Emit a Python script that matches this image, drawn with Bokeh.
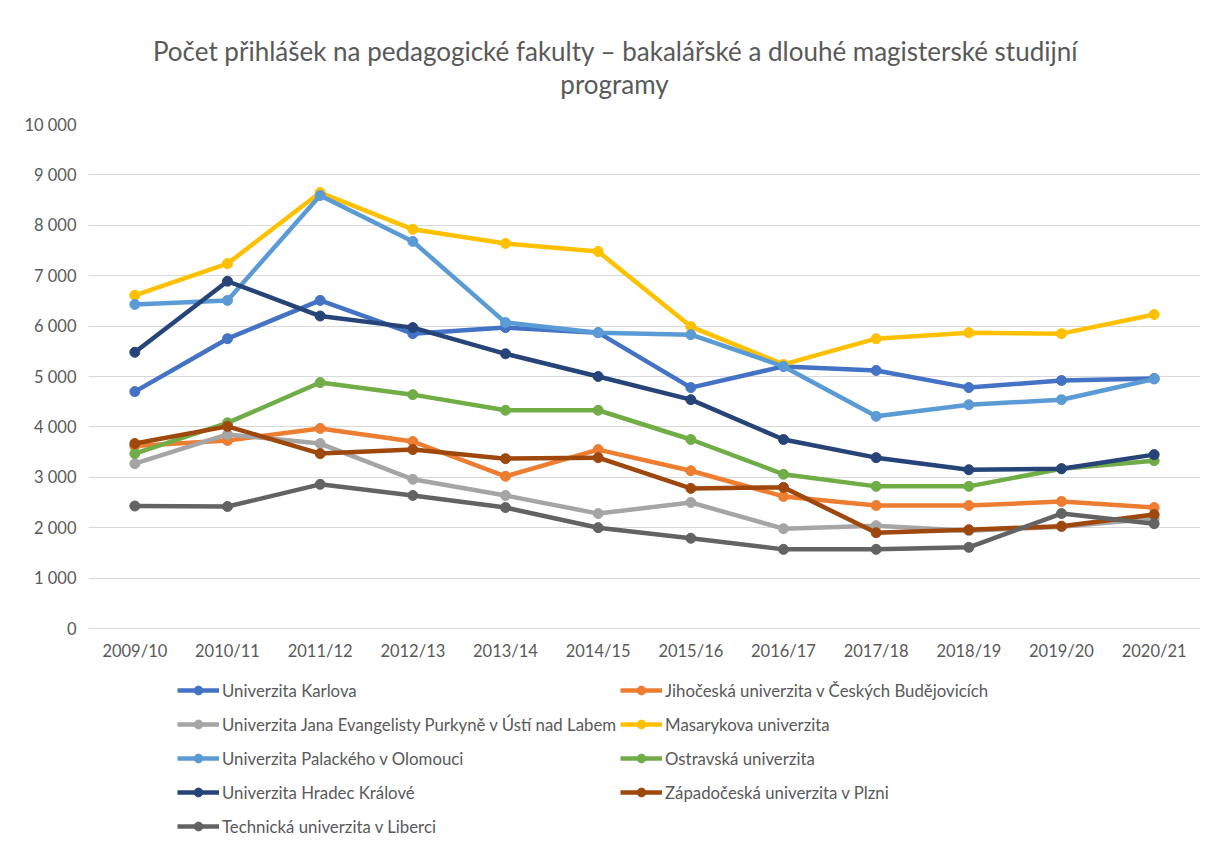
from bokeh.plotting import figure
from bokeh.models import Legend, LegendItem, FixedTicker, Range1d
from bokeh.core.properties import value
from bokeh.layouts import column
from bokeh.embed import file_html
from bokeh.resources import INLINE

years = ["2009/10", "2010/11", "2011/12", "2012/13", "2013/14", "2014/15",
         "2015/16", "2016/17", "2017/18", "2018/19", "2019/20", "2020/21"]

karlova = [4700, 5750, 6510, 5850, 5970, 5870, 4780, 5200, 5120, 4780, 4920, 4960]
jihoceska = [3620, 3730, 3970, 3710, 3020, 3550, 3130, 2620, 2440, 2440, 2520, 2400]
usti = [3270, 3850, 3670, 2960, 2640, 2280, 2500, 1980, 2040, 1940, 2020, 2180]
masaryk = [6610, 7240, 8650, 7920, 7640, 7480, 5990, 5240, 5750, 5870, 5850, 6230]
palacky = [6430, 6510, 8590, 7680, 6070, 5870, 5830, 5200, 4210, 4440, 4540, 4950]
ostrava = [3470, 4080, 4880, 4640, 4330, 4330, 3750, 3060, 2820, 2820, 3170, 3330]
hradec = [5480, 6890, 6200, 5970, 5450, 5000, 4540, 3750, 3390, 3150, 3170, 3450]
plzen = [3670, 4010, 3470, 3550, 3370, 3390, 2780, 2800, 1900, 1960, 2030, 2260]
liberec = [2430, 2420, 2860, 2640, 2400, 2000, 1790, 1570, 1570, 1610, 2280, 2080]

names = ["Univerzita Karlova",
         "Jihočeská univerzita v Českých Budějovicích",
         "Univerzita Jana Evangelisty Purkyně v Ústí nad Labem",
         "Masarykova univerzita",
         "Univerzita Palackého v Olomouci",
         "Ostravská univerzita",
         "Univerzita Hradec Králové",
         "Západočeská univerzita v Plzni",
         "Technická univerzita v Liberci"]
series = [karlova, jihoceska, usti, masaryk, palacky, ostrava, hradec, plzen, liberec]
colors = ["#4472C4", "#ED7D31", "#A5A5A5", "#FFC000", "#5B9BD5",
          "#70AD47", "#264478", "#9E480E", "#636363"]

title_lines = ["Počet přihlášek na pedagogické fakulty – bakalářské a dlouhé magisterské studijní",
               "programy"]

FONT = "Lato"
TXT = "#595959"
W = 1210
LEFT, RIGHT = 88, 10


def bare(fig):
    fig.axis.visible = False
    fig.grid.visible = False
    fig.outline_line_color = None
    fig.background_fill_color = "white"
    fig.border_fill_color = "white"


# header with the two-line title (coordinates of the header = page pixels)
hd = figure(width=W, height=112, x_range=Range1d(LEFT, W - RIGHT), y_range=Range1d(112, 0),
            output_backend="svg", toolbar_location=None,
            min_border_left=LEFT, min_border_right=RIGHT, min_border_top=0, min_border_bottom=0)
bare(hd)
hd.text(x=[615, 614], y=[50, 83], text=title_lines, text_align="center",
        text_baseline="middle", text_font=value(FONT), text_font_size="26px",
        text_color=TXT)

# main chart
p = figure(x_range=years, y_range=(0, 10000), width=W, height=560,
           output_backend="svg", toolbar_location=None,
           min_border_left=LEFT, min_border_right=RIGHT,
           min_border_top=12, min_border_bottom=44)
p.outline_line_color = None
p.background_fill_color = "white"
p.border_fill_color = "white"

p.xgrid.grid_line_color = None
p.ygrid.grid_line_color = "#D9D9D9"
p.ygrid.grid_line_width = 1
p.yaxis.ticker = FixedTicker(ticks=list(range(0, 10001, 1000)))
p.yaxis.major_label_overrides = {v: (f"{v:,}".replace(",", " ")) for v in range(0, 10001, 1000)}
p.yaxis.axis_line_color = None
p.yaxis.major_tick_line_color = None
p.yaxis.minor_tick_line_color = None
p.yaxis.major_tick_out = 0
p.yaxis.major_label_standoff = 12
p.xaxis.axis_line_color = "#D9D9D9"
p.xaxis.axis_line_width = 1
p.xaxis.major_tick_line_color = None
p.xaxis.minor_tick_line_color = None
p.xaxis.major_tick_out = 0
p.xaxis.major_label_standoff = 12
for ax in (p.xaxis, p.yaxis):
    ax.major_label_text_font = FONT
    ax.major_label_text_font_size = "16.5px"
    ax.major_label_text_color = TXT

for name, vals, col in zip(names, series, colors):
    p.line(years, vals, line_color=col, line_width=4.5)
    p.scatter(years, vals, marker="circle", size=10, fill_color=col, line_color=col)

# legend panel (series drawn outside its visible range, only the legend shows)
lg = figure(width=W, height=175, x_range=years, y_range=Range1d(-2, -1),
            output_backend="svg", toolbar_location=None,
            min_border_left=LEFT, min_border_right=RIGHT, min_border_top=0, min_border_bottom=0)
bare(lg)
items = []
for name, vals, col in zip(names, series, colors):
    l = lg.line(years, vals, line_color=col, line_width=4.5)
    s = lg.scatter(years, vals, marker="circle", size=10, fill_color=col, line_color=col)
    items.append(LegendItem(label=name, renderers=[l, s]))

order = [0, 2, 4, 6, 8, 1, 3, 5, 7]  # column-major fill -> row-major reading
legend = Legend(items=[items[i] for i in order], ncols=2, location=(89, 6),
                glyph_width=42, glyph_height=22, label_height=30,
                label_standoff=3, spacing=4, padding=0, margin=0,
                label_text_font=FONT, label_text_font_size="16.8px",
                label_text_color=TXT, border_line_color=None,
                background_fill_alpha=0)
lg.add_layout(legend, "center")

layout = column(hd, p, lg, spacing=0)
open("out.html", "w").write(file_html(layout, INLINE))
